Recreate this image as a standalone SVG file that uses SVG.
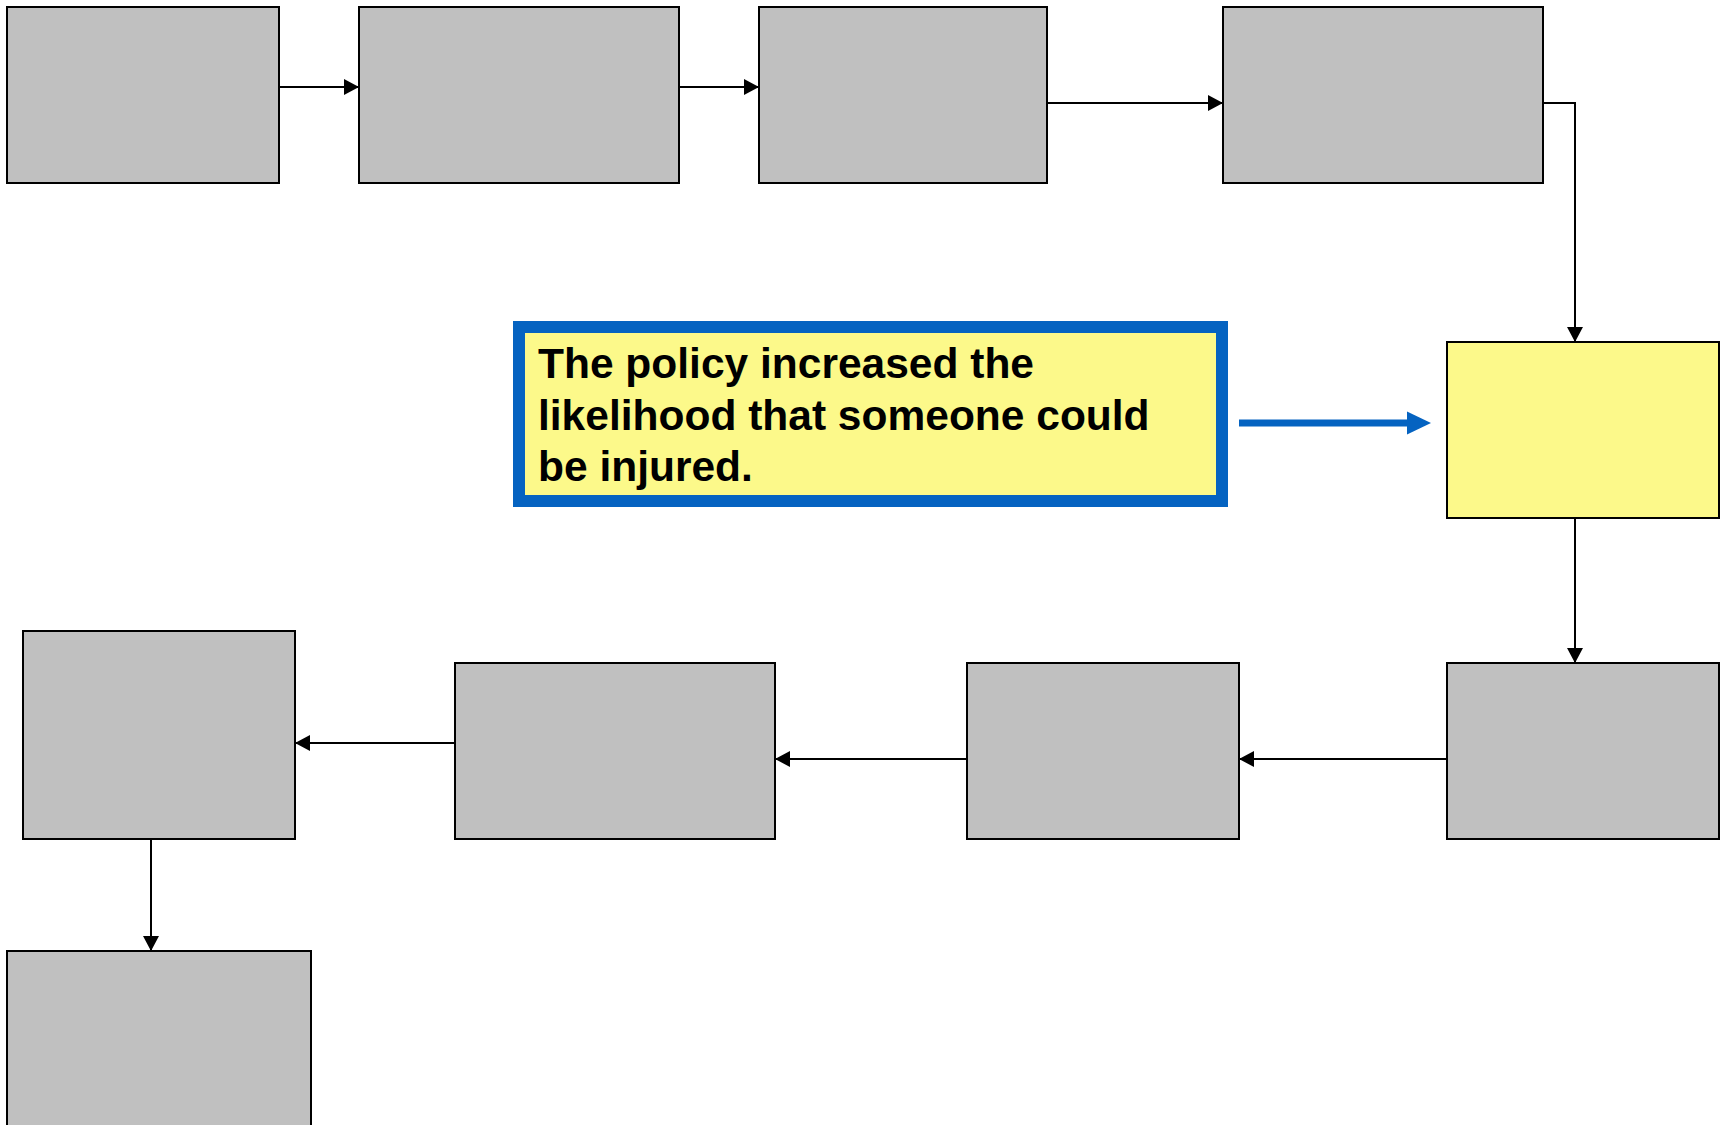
<svg xmlns="http://www.w3.org/2000/svg" width="1729" height="1125" viewBox="0 0 1729 1125">
  <style>
    .box { fill: #C0C0C0; stroke: #000000; stroke-width: 2; }
    .key { fill: #FCF98A; stroke: #000000; stroke-width: 2; }
    .link { fill: none; stroke: #000000; stroke-width: 2; }
    .callout { fill: #FCF98A; stroke: #0563C1; stroke-width: 12; }
    .pointer { fill: none; stroke: #0563C1; stroke-width: 7; }
    .note { font-family: "Liberation Sans", Arial, sans-serif; font-weight: bold; font-size: 42.5px; fill: #000000; }
  </style>
  <defs>
    <marker id="arrow" markerUnits="userSpaceOnUse" markerWidth="16" markerHeight="16" refX="15" refY="8" orient="auto">
      <path d="M0,0 L15,8 L0,16 Z" fill="#000000"/>
    </marker>
  </defs>

  <rect width="1729" height="1125" fill="#FFFFFF"/>

  <!-- connectors -->
  <g id="connectors">
    <line class="link" x1="279" y1="87" x2="359" y2="87" marker-end="url(#arrow)"/>
    <line class="link" x1="679" y1="87" x2="759" y2="87" marker-end="url(#arrow)"/>
    <line class="link" x1="1047" y1="103" x2="1223" y2="103" marker-end="url(#arrow)"/>
    <polyline class="link" points="1543,103 1575,103 1575,342" marker-end="url(#arrow)"/>
    <line class="link" x1="1575" y1="518" x2="1575" y2="663" marker-end="url(#arrow)"/>
    <line class="link" x1="1447" y1="759" x2="1239" y2="759" marker-end="url(#arrow)"/>
    <line class="link" x1="967" y1="759" x2="775" y2="759" marker-end="url(#arrow)"/>
    <line class="link" x1="455" y1="743" x2="295" y2="743" marker-end="url(#arrow)"/>
    <line class="link" x1="151" y1="839" x2="151" y2="951" marker-end="url(#arrow)"/>
  </g>

  <!-- top row -->
  <g id="node1"><rect class="box" x="7" y="7" width="272" height="176"/></g>
  <g id="node2"><rect class="box" x="359" y="7" width="320" height="176"/></g>
  <g id="node3"><rect class="box" x="759" y="7" width="288" height="176"/></g>
  <g id="node4"><rect class="box" x="1223" y="7" width="320" height="176"/></g>

  <!-- highlighted step -->
  <g id="node5"><rect class="key" x="1447" y="342" width="272" height="176"/></g>

  <!-- bottom row -->
  <g id="node6"><rect class="box" x="1447" y="663" width="272" height="176"/></g>
  <g id="node7"><rect class="box" x="967" y="663" width="272" height="176"/></g>
  <g id="node8"><rect class="box" x="455" y="663" width="320" height="176"/></g>
  <g id="node9"><rect class="box" x="23" y="631" width="272" height="208"/></g>
  <g id="node10"><rect class="box" x="7" y="951" width="304" height="200"/></g>

  <!-- explanatory note pointing at the highlighted step -->
  <g id="note">
    <rect class="callout" x="519" y="327" width="703" height="174"/>
    <text class="note" x="538" y="378">The policy increased the</text>
    <text class="note" x="538" y="429.5">likelihood that someone could</text>
    <text class="note" x="538" y="481">be injured.</text>
  </g>
  <g id="note-pointer">
    <line class="pointer" x1="1239" y1="423" x2="1410" y2="423"/>
    <polygon points="1407,411.5 1431,423 1407,434.5" fill="#0563C1"/>
  </g>
</svg>
